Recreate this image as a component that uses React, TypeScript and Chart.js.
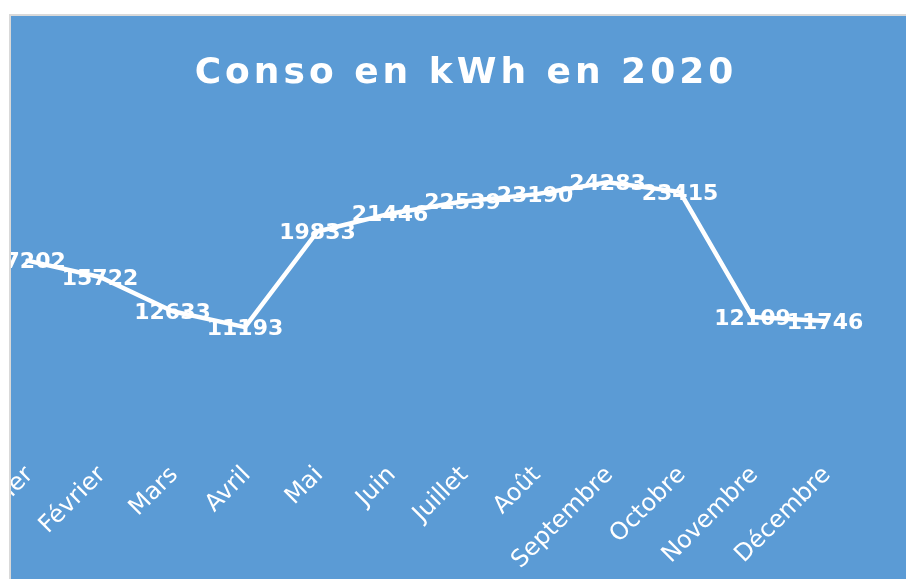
import React, { useEffect, useRef } from 'react';
import { Chart, registerables } from 'chart.js';

Chart.register(...registerables);

const months = ['Janvier', 'Février', 'Mars', 'Avril', 'Mai', 'Juin', 'Juillet', 'Août', 'Septembre', 'Octobre', 'Novembre', 'Décembre'];
const consoKWh = [17202, 15722, 12633, 11193, 19833, 21446, 22539, 23190, 24283, 23415, 12109, 11746];
const titleText = 'Conso en kWh en 2020';
const yMin = 0;
const yMax = 30000;

const BLUE = '#5B9BD5';
const FONT = '"DejaVu Sans", Verdana, sans-serif';

export default function App() {
  const ref = useRef<HTMLCanvasElement>(null);

  useEffect(() => {
    if (!ref.current) return;

    const titlePlugin = {
      id: 'spacedTitle',
      afterDraw(chart: any) {
        const ctx = chart.ctx;
        ctx.save();
        ctx.font = `bold 36px ${FONT}`;
        ctx.fillStyle = '#ffffff';
        (ctx as any).letterSpacing = '4px';
        ctx.textAlign = 'left';
        ctx.textBaseline = 'alphabetic';
        const w = ctx.measureText(titleText).width - 4;
        ctx.fillText(titleText, 563 - w / 2, 67);
        ctx.restore();
      },
    };

    const labelPlugin = {
      id: 'pointValues',
      afterDatasetsDraw(chart: any) {
        const ctx = chart.ctx;
        const meta = chart.getDatasetMeta(0);
        const values = chart.data.datasets[0].data as number[];
        ctx.save();
        ctx.font = `bold 22px ${FONT}`;
        ctx.fillStyle = '#ffffff';
        ctx.textAlign = 'center';
        ctx.textBaseline = 'middle';
        meta.data.forEach((pt: any, i: number) => {
          ctx.fillText(String(values[i]), pt.x, pt.y + 2);
        });
        ctx.restore();
      },
    };

    const chart = new Chart(ref.current, {
      type: 'line',
      data: {
        labels: months,
        datasets: [
          {
            label: 'Conso',
            data: consoKWh,
            borderColor: '#ffffff',
            borderWidth: 4.5,
            pointRadius: 0,
            pointHoverRadius: 0,
            fill: false,
            tension: 0,
            borderJoinStyle: 'round',
            borderCapStyle: 'round',
          },
        ],
      },
      options: {
        responsive: false,
        animation: false,
        devicePixelRatio: 1,
        layout: { padding: { left: 90.25, right: 139.75, top: 103, bottom: 0 } },
        plugins: {
          legend: { display: false },
          title: { display: false },
          tooltip: { enabled: false },
        },
        scales: {
          x: {
            offset: true,
            grid: { display: false, drawTicks: false },
            border: { display: false },
            ticks: {
              color: '#ffffff',
              font: { family: FONT, size: 24 },
              minRotation: 45,
              maxRotation: 45,
              autoSkip: false,
              padding: 10,
              labelOffset: 2,
            },
            afterFit: (scale: any) => {
              scale.height = 128;
            },
          },
          y: {
            display: false,
            min: yMin,
            max: yMax,
          },
        },
      },
      plugins: [titlePlugin, labelPlugin],
    });

    return () => chart.destroy();
  }, []);

  return (
    <div
      style={{
        position: 'absolute',
        left: 9,
        top: 14,
        width: 895,
        height: 563,
        borderLeft: '2px solid #D9D9D9',
        borderTop: '2px solid #D9D9D9',
        background: BLUE,
        overflow: 'hidden',
      }}
    >
      <canvas
        ref={ref}
        width={1100}
        height={563}
        style={{ position: 'absolute', left: -110, top: 0, width: 1100, height: 563 }}
      />
    </div>
  );
}
